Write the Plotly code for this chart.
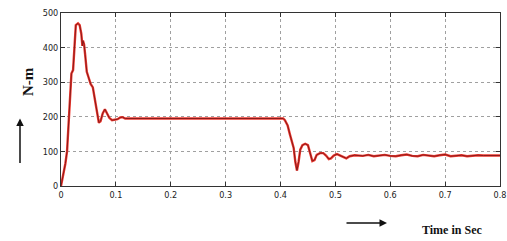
import plotly.graph_objects as go

time_s = [0, 0.004, 0.008, 0.011, 0.014, 0.017, 0.019, 0.022, 0.025, 0.027, 0.031, 0.034,
          0.037, 0.039, 0.040, 0.042, 0.044, 0.047, 0.050, 0.054, 0.058, 0.062, 0.066, 0.069,
          0.072, 0.076, 0.080, 0.084, 0.088, 0.093, 0.098, 0.103, 0.108, 0.112, 0.117, 0.405,
          0.408, 0.413, 0.417, 0.421, 0.424, 0.427, 0.430, 0.433, 0.436, 0.440, 0.445, 0.450,
          0.454, 0.458, 0.462, 0.466, 0.472, 0.478, 0.483, 0.488, 0.492, 0.497, 0.503, 0.508,
          0.514, 0.520, 0.526, 0.535, 0.55, 0.56, 0.57, 0.58, 0.59, 0.60, 0.61, 0.62, 0.63,
          0.64, 0.65, 0.66, 0.67, 0.68, 0.69, 0.70, 0.71, 0.72, 0.73, 0.74, 0.75, 0.76, 0.77,
          0.78, 0.79, 0.80]
torque_nm = [0, 30, 65, 100, 195, 300, 325, 335, 420, 465, 470, 465,
             440, 405, 420, 410, 380, 330, 315, 295, 285, 250, 205, 183,
             187, 210, 222, 210, 197, 190, 191, 193, 198, 199, 195, 195,
             190, 175, 150, 125, 110, 70, 45, 70, 105, 118, 122, 118,
             95, 72, 75, 90, 95, 95, 88, 78, 80, 88, 92, 88,
             84, 80, 86, 89, 87, 90, 86, 88, 90, 87, 86, 89, 91,
             87, 86, 90, 88, 86, 89, 91, 86, 88, 89, 86, 88, 89, 88,
             88, 89, 88]

x_ticks = [0, 0.1, 0.2, 0.3, 0.4, 0.5, 0.6, 0.7, 0.8]
x_tick_labels = ["0", "0.1", "0.2", "0.3", "0.4", "0.5", "0.6", "0.7", "0.8"]
y_ticks = [0, 100, 200, 300, 400, 500]
y_tick_labels = ["0", "100", "200", "300", "400", "500"]

fig = go.Figure()
fig.add_trace(go.Scatter(x=time_s, y=torque_nm, mode="lines",
                         line=dict(color="#f03a30", width=2.4), hoverinfo="skip"))
fig.add_trace(go.Scatter(x=time_s, y=torque_nm, mode="lines",
                         line=dict(color="#8a1a1a", width=1)))

tickfont = dict(family="Liberation Sans Narrow, DejaVu Sans Condensed, Arial Narrow", size=9, color="#222")
axis_common = dict(showline=True, linecolor="#333", linewidth=1, mirror="ticks",
                   ticks="inside", ticklen=4, tickcolor="#333",
                   showgrid=True, gridcolor="#a0a0a0", griddash="dot", gridwidth=1,
                   zeroline=False, tickfont=tickfont, automargin=False)

fig.update_layout(
    width=507, height=241, autosize=False,
    margin=dict(l=61, r=7, t=13, b=55, autoexpand=False),
    plot_bgcolor="white", paper_bgcolor="white",
    showlegend=False,
    xaxis=dict(range=[0, 0.8], tickvals=x_ticks, ticktext=x_tick_labels, **axis_common),
    yaxis=dict(range=[0, 500], tickvals=y_ticks, ticktext=y_tick_labels, **axis_common),
    annotations=[
        dict(text="<b>N-m</b>", xref="paper", yref="paper", x=-0.098, y=0.607,
             textangle=-90, showarrow=False,
             font=dict(family="Liberation Serif, Times New Roman", size=15, color="#111")),
        dict(text="", xref="paper", yref="paper", x=-0.0934, y=0.39,
             ax=0, ay=46, showarrow=True, arrowhead=2, arrowsize=1, arrowwidth=1.5,
             arrowcolor="#111"),
        dict(text="", xref="paper", yref="paper", x=0.7426, y=-0.214,
             ax=-42, ay=0, showarrow=True, arrowhead=2, arrowsize=1, arrowwidth=1.5,
             arrowcolor="#111"),
        dict(text="<b>Time in Sec</b>", xref="paper", yref="paper", x=0.8907, y=-0.254,
             showarrow=False, xanchor="center", yanchor="middle",
             font=dict(family="Liberation Serif, Times New Roman", size=12, color="#111")),
    ],
)

fig.write_html(
    "out.html",
    config={"displayModeBar": False, "responsive": False},
    post_script="document.body.style.margin='0';document.body.style.overflow='hidden';",
)
